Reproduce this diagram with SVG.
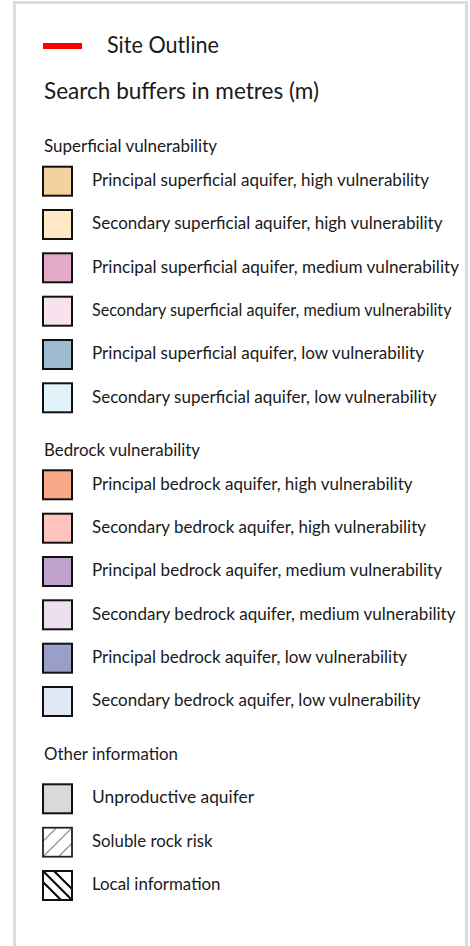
<svg xmlns="http://www.w3.org/2000/svg" width="470" height="946" viewBox="0 0 470 946">
<style>
.title{font-family:Lato,"Liberation Sans",sans-serif;font-size:22.3px;fill:#1a1a1a}
.hdr{font-family:Lato,"Liberation Sans",sans-serif;font-size:17px;fill:#1a1a1a}
.lbl{font-family:Lato,"Liberation Sans",sans-serif;font-size:17px;fill:#1a1a1a}
.sw{stroke:#111;stroke-width:2}
</style>
<rect x="0" y="0" width="470" height="946" fill="#ffffff"/>
<rect id="frame" x="14.5" y="2.5" width="452" height="980" fill="#ffffff" stroke="#d6dde7" stroke-width="3"/>
<g id="site-outline">
<rect x="43" y="43" width="39" height="6" fill="#ff0000"/>
<text class="title" x="107" y="53.3" textLength="112" lengthAdjust="spacingAndGlyphs">Site Outline</text>
</g>
<g id="search-buffers"><text class="title" x="44" y="99" textLength="275" lengthAdjust="spacingAndGlyphs">Search buffers in metres (m)</text></g>
<g id="superficial-header"><text class="hdr" x="44" y="152" textLength="173" lengthAdjust="spacingAndGlyphs">Superficial vulnerability</text></g>
<g id="sup-1"><rect class="sw" x="43" y="166.7" width="29" height="29" fill="#f4d19f"/><text class="lbl" x="92" y="186" textLength="337" lengthAdjust="spacingAndGlyphs">Principal superficial aquifer, high vulnerability</text></g>
<g id="sup-2"><rect class="sw" x="43" y="210" width="29" height="29" fill="#fee9c4"/><text class="lbl" x="92" y="229.3" textLength="350.5" lengthAdjust="spacingAndGlyphs">Secondary superficial aquifer, high vulnerability</text></g>
<g id="sup-3"><rect class="sw" x="43" y="253.3" width="29" height="29" fill="#e5a9ca"/><text class="lbl" x="92" y="272.7" textLength="367" lengthAdjust="spacingAndGlyphs">Principal superficial aquifer, medium vulnerability</text></g>
<g id="sup-4"><rect class="sw" x="43" y="296.7" width="29" height="29" fill="#f8e2ee"/><text class="lbl" x="92" y="316" textLength="359.5" lengthAdjust="spacingAndGlyphs">Secondary superficial aquifer, medium vulnerability</text></g>
<g id="sup-5"><rect class="sw" x="43" y="340" width="29" height="29" fill="#9dbbcf"/><text class="lbl" x="92" y="359.3" textLength="332" lengthAdjust="spacingAndGlyphs">Principal superficial aquifer, low vulnerability</text></g>
<g id="sup-6"><rect class="sw" x="43" y="383.3" width="29" height="29" fill="#e3f3fa"/><text class="lbl" x="92" y="402.7" textLength="344.5" lengthAdjust="spacingAndGlyphs">Secondary superficial aquifer, low vulnerability</text></g>
<g id="bedrock-header"><text class="hdr" x="44" y="456" textLength="156" lengthAdjust="spacingAndGlyphs">Bedrock vulnerability</text></g>
<g id="bed-1"><rect class="sw" x="43" y="470.3" width="29" height="29" fill="#f9a98a"/><text class="lbl" x="92" y="489.7" textLength="320.5" lengthAdjust="spacingAndGlyphs">Principal bedrock aquifer, high vulnerability</text></g>
<g id="bed-2"><rect class="sw" x="43" y="513.7" width="29" height="29" fill="#fec5c0"/><text class="lbl" x="92" y="533" textLength="334" lengthAdjust="spacingAndGlyphs">Secondary bedrock aquifer, high vulnerability</text></g>
<g id="bed-3"><rect class="sw" x="43" y="557" width="29" height="29" fill="#bfa3cd"/><text class="lbl" x="92" y="576.3" textLength="350" lengthAdjust="spacingAndGlyphs">Principal bedrock aquifer, medium vulnerability</text></g>
<g id="bed-4"><rect class="sw" x="43" y="600.3" width="29" height="29" fill="#ede0ee"/><text class="lbl" x="92" y="619.7" textLength="363.5" lengthAdjust="spacingAndGlyphs">Secondary bedrock aquifer, medium vulnerability</text></g>
<g id="bed-5"><rect class="sw" x="43" y="643.7" width="29" height="29" fill="#9a9fca"/><text class="lbl" x="92" y="663" textLength="315" lengthAdjust="spacingAndGlyphs">Principal bedrock aquifer, low vulnerability</text></g>
<g id="bed-6"><rect class="sw" x="43" y="687" width="29" height="29" fill="#e1e8f5"/><text class="lbl" x="92" y="706.3" textLength="328.5" lengthAdjust="spacingAndGlyphs">Secondary bedrock aquifer, low vulnerability</text></g>
<g id="other-header"><text class="hdr" x="44" y="760" textLength="134" lengthAdjust="spacingAndGlyphs">Other information</text></g>
<g id="unproductive"><rect class="sw" x="43" y="784.3" width="29" height="29" fill="#d9d9d9"/><text class="lbl" x="92" y="803.3" textLength="162" lengthAdjust="spacingAndGlyphs">Unproductive aquifer</text></g>
<g id="soluble">
<rect x="43" y="827.7" width="29" height="29" fill="#ffffff"/>
<g stroke="#9a9a9a" stroke-width="1.5">
<line x1="43" y1="841.2" x2="56.5" y2="827.7"/>
<line x1="43" y1="856.7" x2="72" y2="827.7"/>
<line x1="58.5" y1="856.7" x2="72" y2="843.2"/>
</g>
<rect x="43" y="827.7" width="29" height="29" fill="none" stroke="#222" stroke-width="1.8"/>
<text class="lbl" x="92" y="846.7" textLength="120.5" lengthAdjust="spacingAndGlyphs">Soluble rock risk</text>
</g>
<g id="local">
<rect x="43" y="871" width="29" height="29" fill="#ffffff"/>
<g stroke="#000" stroke-width="2">
<line x1="43" y1="871" x2="72" y2="900"/>
<line x1="54" y1="871" x2="72" y2="889"/>
<line x1="43" y1="882" x2="61" y2="900"/>
</g>
<rect class="sw" x="43" y="871" width="29" height="29" fill="none"/>
<text class="lbl" x="92" y="890" textLength="128.5" lengthAdjust="spacingAndGlyphs">Local information</text>
</g>
<g id="connectors"/>
</svg>
